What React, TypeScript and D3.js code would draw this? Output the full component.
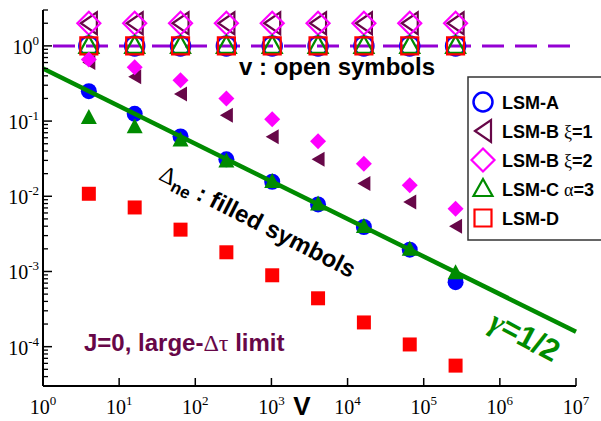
import * as d3 from "d3";

// system sizes V (4^1 .. 4^9)
const sizes = [4, 16, 64, 256, 1024, 4096, 16384, 65536, 262144];

// v : open symbols
const vA = [1, 1, 1, 1, 1, 1, 1, 1, 1];
const vB1 = [2, 2, 2, 2, 2, 2, 2, 2, 2];
const vB2 = [2, 2, 2, 2, 2, 2, 2, 2, 2];
const vC = [1, 1, 1, 1, 1, 1, 1, 1, 1];
const vD = [1, 1, 1, 1, 1, 1, 1, 1, 1];

// Delta_ne : filled symbols
const dA = [0.25, 0.125, 0.0625, 0.031, 0.0156, 0.0078, 0.0039, 0.00195, 0.00072];
const dB1 = [0.6, 0.39, 0.23, 0.12, 0.062, 0.031, 0.0148, 0.0084, 0.004];
const dB2 = [0.66, 0.52, 0.35, 0.2, 0.106, 0.054, 0.027, 0.014, 0.0068];
const dC = [0.11, 0.083, 0.055, 0.029, 0.0155, 0.0078, 0.0039, 0.00195, 0.00095];
const dD = [0.0108, 0.0071, 0.0036, 0.0018, 0.00089, 0.00044, 0.00021, 0.000107, 0.000056];

const legendLabels = ["LSM-A", "LSM-B", "LSM-B", "LSM-C", "LSM-D"];
const legendExtra = ["", "ξ=1", "ξ=2", "α=3", ""];

const xTicks = [1, 10, 100, 1e3, 1e4, 1e5, 1e6, 1e7];
const yTicks = [1e-4, 1e-3, 1e-2, 1e-1, 1];

const BLUE = "#0000ff";
const MAROON = "#670748";
const MAGENTA = "#ff00ff";
const GREEN = "#008b00";
const RED = "#ff0000";
const VIOLET = "#9400d3";

type Shape = "circle" | "left" | "diamond" | "up" | "square";

const shapePath = (shape: Shape, open: boolean) => {
  if (shape === "left") return open ? "M-8,0L8,-11L8,11Z" : "M-6.5,0L6.5,-7.5L6.5,7.5Z";
  if (shape === "diamond") return open ? "M0,-11.5L11.5,0L0,11.5L-11.5,0Z" : "M0,-8L8,0L0,8L-8,0Z";
  if (shape === "up") return open ? "M0,-10L9.5,7L-9.5,7Z" : "M0,-9L8,6L-8,6Z";
  if (shape === "square") return open ? "M-8.5,-8.5H8.5V8.5H-8.5Z" : "M-7,-7H7V7H-7Z";
  return "";
};

const Marker = ({ shape, color, open, x, y }: { shape: Shape; color: string; open: boolean; x: number; y: number }) => {
  const fill = open ? "none" : color;
  const stroke = open ? color : "none";
  if (shape === "circle")
    return <circle cx={x} cy={y} r={open ? 9.5 : 8} fill={fill} stroke={stroke} strokeWidth={2.5} />;
  return <path transform={`translate(${x},${y})`} d={shapePath(shape, open)} fill={fill} stroke={stroke} strokeWidth={2.2} strokeLinejoin="miter" />;
};

const width = 601;
const height = 421;
const left = 43;
const right = 576;
const top = 10;
const bottom = 386;

export default function App() {
  const x = d3.scaleLog().domain([1, 1e7]).range([left, right]);
  const y = d3.scaleLog().domain([3e-5, 3]).range([bottom, top]);

  const minorY: number[] = [];
  for (let e = -5; e <= 0; e++) {
    for (let m = 2; m <= 9; m++) {
      const v = m * Math.pow(10, e);
      if (v >= 3e-5 && v <= 3.0001) minorY.push(v);
    }
  }

  const fit = d3.line<number>().x((v) => x(v)).y((v) => y(0.5 / Math.sqrt(v)));

  const openSeries: { vals: number[]; shape: Shape; color: string }[] = [
    { vals: vA, shape: "circle", color: BLUE },
    { vals: vB1, shape: "left", color: MAROON },
    { vals: vB2, shape: "diamond", color: MAGENTA },
    { vals: vC, shape: "up", color: GREEN },
    { vals: vD, shape: "square", color: RED },
  ];
  const filledSeries: { vals: number[]; shape: Shape; color: string }[] = [
    { vals: dA, shape: "circle", color: BLUE },
    { vals: dB1, shape: "left", color: MAROON },
    { vals: dB2, shape: "diamond", color: MAGENTA },
    { vals: dC, shape: "up", color: GREEN },
    { vals: dD, shape: "square", color: RED },
  ];

  const sans = "'Liberation Sans', Arial, sans-serif";
  const serif = "'Liberation Serif', 'Times New Roman', serif";

  return (
    <svg width={width} height={height} style={{ position: "absolute", left: 0, top: 0, background: "#fff" }}>
      {/* dashed v=1 line */}
      <line x1={x(1)} x2={x(1e7)} y1={y(1)} y2={y(1)} stroke={VIOLET} strokeWidth={3} strokeDasharray="22 11" strokeDashoffset={23} />

      {/* open symbols */}
      {openSeries.map((s, i) => (
        <g key={"o" + i}>
          {sizes.map((v, j) => (
            <Marker key={j} shape={s.shape} color={s.color} open x={x(v)} y={y(s.vals[j])} />
          ))}
        </g>
      ))}

      {/* filled symbols */}
      {filledSeries.map((s, i) => (
        <g key={"f" + i}>
          {sizes.map((v, j) => (
            <Marker key={j} shape={s.shape} color={s.color} open={false} x={x(v)} y={y(s.vals[j])} />
          ))}
        </g>
      ))}

      {/* gamma = 1/2 line */}
      <path d={fit([1, 1e7]) ?? ""} stroke={GREEN} strokeWidth={4.5} fill="none" />

      {/* axes */}
      <line x1={left} x2={right} y1={bottom} y2={bottom} stroke="#000" strokeWidth={2} />
      <line x1={left} x2={left} y1={top} y2={bottom} stroke="#000" strokeWidth={2} />
      {xTicks.map((t) => (
        <g key={t}>
          <line x1={x(t)} x2={x(t)} y1={bottom} y2={bottom - 8} stroke="#000" strokeWidth={1.5} />
          <text x={x(t)} y={414} textAnchor="middle" fontFamily={serif} fontSize={20}>
            10<tspan dy={-9} fontSize={13}>{Math.round(Math.log10(t))}</tspan>
          </text>
        </g>
      ))}
      {minorY.map((t) => (
        <line key={t} x1={left} x2={left + 5} y1={y(t)} y2={y(t)} stroke="#000" strokeWidth={1.3} />
      ))}
      {yTicks.map((t) => (
        <g key={t}>
          <line x1={left} x2={left + 9} y1={y(t)} y2={y(t)} stroke="#000" strokeWidth={1.5} />
          <text x={39} y={y(t) + 8} textAnchor="end" fontFamily={serif} fontSize={20}>
            10<tspan dy={-9} fontSize={13}>{Math.round(Math.log10(t))}</tspan>
          </text>
        </g>
      ))}
      <text x={302} y={415} textAnchor="middle" fontFamily={sans} fontWeight="bold" fontSize={26}>V</text>

      {/* annotations */}
      <text x={239} y={75} fontFamily={sans} fontWeight="bold" fontSize={24}>v : open symbols</text>
      <text transform="translate(258,221) rotate(27)" textAnchor="middle" dominantBaseline="central" fontFamily={sans} fontWeight="bold" fontSize={24}>
        <tspan fontFamily={serif} fontWeight="normal">Δ</tspan>
        <tspan dy={7} fontSize={17}>ne</tspan>
        <tspan dy={-7}> : filled symbols</tspan>
      </text>
      <text transform="translate(525,336) rotate(28)" textAnchor="middle" dominantBaseline="central" fontFamily={sans} fontWeight="bold" fontSize={31} fill={GREEN}>
        <tspan fontFamily={serif} fontStyle="italic">γ</tspan>=1/2
      </text>
      <text x={84} y={351} fontFamily={sans} fontWeight="bold" fontSize={24} fill={MAROON}>
        J=0, large-<tspan fontFamily={serif} fontWeight="normal">Δτ</tspan> limit
      </text>

      {/* legend */}
      <rect x={468} y={77} width={140} height={163} fill="#fff" stroke="#333" strokeWidth={1.5} />
      {openSeries.map((s, i) => (
        <g key={"l" + i}>
          <Marker shape={s.shape} color={s.color} open x={483} y={102 + 29 * i} />
          <text x={502} y={102 + 29 * i + 6.5} fontFamily={sans} fontWeight="bold" fontSize={18}>
            {legendLabels[i]}
            {legendExtra[i] && (
              <>
                {" "}
                <tspan fontFamily={serif} fontWeight="normal">{legendExtra[i][0]}</tspan>
                {legendExtra[i].slice(1)}
              </>
            )}
          </text>
        </g>
      ))}
    </svg>
  );
}
